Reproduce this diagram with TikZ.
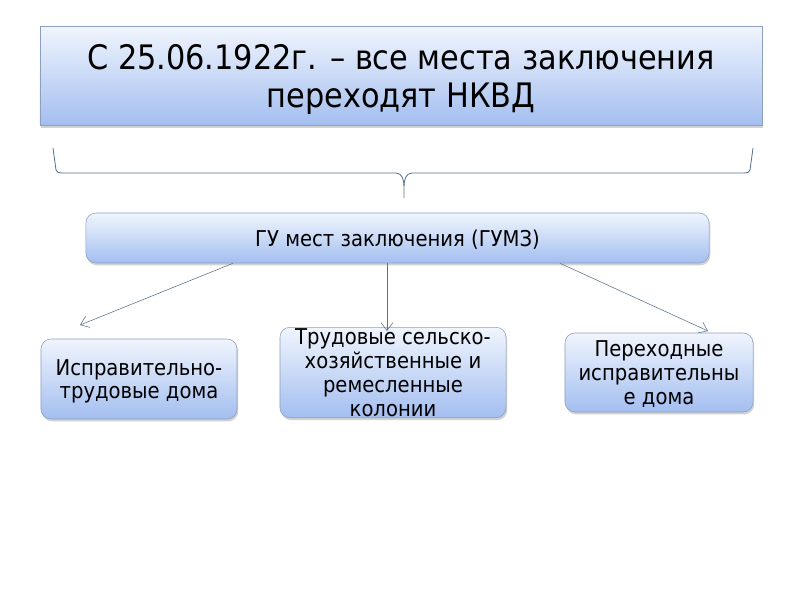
\documentclass[tikz,border=0pt]{standalone}
\usepackage{fontspec}
\setmainfont{DejaVu Sans Condensed}
\usepackage{tikz}
\usetikzlibrary{positioning, arrows.meta, shadows}
\definecolor{boxtop}{RGB}{240,245,253}
\definecolor{boxbot}{RGB}{163,190,240}
\definecolor{boxline}{RGB}{140,160,190}
\definecolor{linkline}{RGB}{90,115,140}

\begin{document}
\begin{tikzpicture}[x=0.025cm, y=-0.025cm,
    bluebox/.style={draw=boxline, top color=boxtop, bottom color=boxbot,
      drop shadow={shadow xshift=0.3mm, shadow yshift=-0.6mm, fill=black!35},
      align=center, inner sep=1pt, text depth=0pt},
    link/.style={draw=linkline, -{Straight Barb[length=2mm, width=3mm]}}]
    \useasboundingbox (0,0) rectangle (800,600);
    % Heading box
    \node[bluebox, minimum width=18.05cm, minimum height=2.475cm,
      font=\fontsize{24}{27}\selectfont] (head) at (401,76)
      {С 25.06.1922г. – все места заключения\\переходят НКВД};
    % Brace
    \coordinate (bl) at (53,148);
    \coordinate (br) at (753,148);
    \coordinate (tip) at (404,198);
    \draw[linkline, line width=0.6pt] (bl) -- (56,170) to[out=-80,in=180] (62,173)
      -- (396,173) to[out=0,in=90] (404,186) -- (tip);
    \draw[linkline, line width=0.6pt] (br) -- (750,170) to[out=-100,in=0] (744,173)
      -- (412,173) to[out=180,in=90] (404,186);
    % GUMZ
    \node[bluebox, rounded corners=2.5mm, minimum width=15.575cm, minimum height=1.25cm,
      font=\fontsize{15.5}{17}\selectfont] (gumz) at (397.5,238)
      {ГУ мест заключения (ГУМЗ)};
    % Three kinds
    \node[bluebox, rounded corners=2.5mm, minimum width=4.9cm, minimum height=2cm,
      font=\fontsize{15.5}{17}\selectfont] (itd) at (139,379)
      {Исправительно-\\трудовые дома};
    \node[bluebox, rounded corners=2.5mm, minimum width=5.65cm, minimum height=1.975cm,
      font=\fontsize{15.5}{17}\selectfont] (col) at (393,372.5)
      {Трудовые сельско-\\хозяйственные и\\ремесленные\\колонии};
    \node[bluebox, rounded corners=2.5mm, minimum width=4.7cm, minimum height=1.975cm,
      font=\fontsize{15.5}{17}\selectfont] (pid) at (659,372.5)
      {Переходные\\исправительны\\е дома};
    \coordinate (a1) at (80,325);
    \coordinate (a2) at (387,331);
    \coordinate (a3) at (708,331);
    \draw[link] (gumz.south -| 233,0) -- (a1);
    \draw[link] (gumz.south -| 387,0) -- (a2);
    \draw[link] (gumz.south -| 560,0) -- (a3);
\end{tikzpicture}
\end{document}
